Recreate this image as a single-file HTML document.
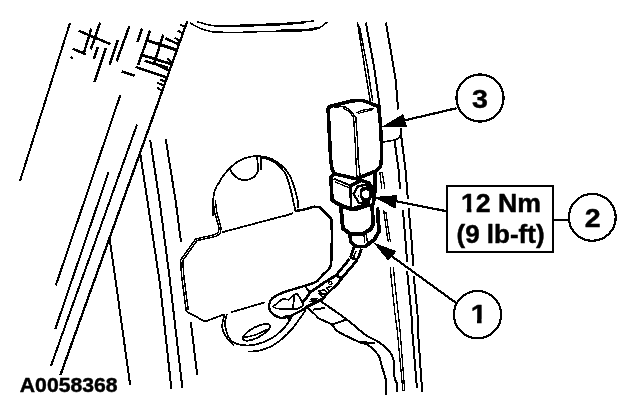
<!DOCTYPE html>
<html>
<head>
<meta charset="utf-8">
<title>A0058368</title>
<style>
html,body{margin:0;padding:0;background:#fff;}
body{width:640px;height:406px;overflow:hidden;position:relative;}
svg{position:absolute;left:0;top:0;display:block;will-change:transform;}
.t{fill:none;stroke:#000;stroke-width:2;stroke-linecap:butt;stroke-linejoin:round;}
.m{fill:none;stroke:#000;stroke-width:2.2;stroke-linecap:butt;stroke-linejoin:round;}
.k{fill:none;stroke:#000;stroke-width:3.6;stroke-linecap:butt;stroke-linejoin:round;}
text{font-family:"Liberation Sans",Arial,Helvetica,sans-serif;font-weight:bold;fill:#000;stroke:#000;stroke-width:0.45;stroke-linejoin:round;}
</style>
</head>
<body>
<svg width="640" height="406" viewBox="0 0 640 406" shape-rendering="crispEdges">
<rect x="0" y="0" width="640" height="406" fill="#fff"/>

<!-- left hatch area -->
<g class="t" id="hatch">
<path d="M70,23 L20,181"/>
<g style="stroke-width:2.5">
<path d="M78.6,30.7 L110.3,44.1"/>
<path d="M91.4,28.6 L83.9,52.7"/>
<path d="M100.2,22.5 L90.8,49.5"/>
<path d="M72.6,48.7 L85.8,54.2"/>
<path d="M70.4,57 L73.2,58.2"/>
<path d="M97.7,47 L93.9,59"/>
<path d="M105.9,47.7 L94.5,82"/>
<path d="M117.8,40.1 L109.6,64.6"/>
<path d="M129.3,26.3 L116.5,61.5"/>
<path d="M121.6,71.3 L134.7,75.7"/>
<path d="M142,28.6 L137.6,42"/>
<path d="M150.1,30.7 L138.2,64.8"/>
<path d="M163.3,34.5 L153.6,65"/>
<path style="stroke-width:3" d="M146.4,40.1 L177.1,50.2"/>
<path d="M165.2,38.2 L179,44.5"/>
<path style="stroke-width:2.8" d="M140.7,54.6 L172.7,64.6"/>
<path d="M144.5,60.9 L167.7,67.5"/>
<path d="M155,63.8 L168.3,70"/>
<path d="M135.7,66.9 L167.1,77.6"/>
</g>
<path d="M120.3,95.2 L55.8,285.4"/>
<path style="stroke-width:2.3" d="M187.2,21.3 L60.3,375.4"/>
<path d="M179.6,24.4 L185.3,26.9 M177.8,30.7 L183.4,33.8 M174.6,37.6 L180.9,42 M167.1,58.3 L172.1,62.7 M160.2,79.5 L165.8,82 M157,82.6 L162.7,85.1 M157,87.6 L162,90.8"/>
<path d="M108.5,172.4 L55.3,329"/>
<path d="M137,124.6 L51,365.8"/>
<path d="M109.5,237.7 L118.6,302 L130.2,385.4"/>
<path d="M140.1,152.8 L147.6,202 L160,284 L171.4,388.9"/>
<path d="M150.2,139.7 L159.7,202 L169.4,276 L182.4,388.2"/>
<path d="M165.7,139 L175.8,202 L181,242.2"/>
<path d="M190.8,322.1 L197.2,374.7"/>
</g>

<!-- top curves -->
<g class="t" id="topcurves" style="stroke-width:1.5">
<path d="M196.7,21.5 C203,23.5 208,25.2 214,25.7 C225,26.2 235,25.5 245,25 C258,24.5 268,24.2 279,23.8 C292,23 303,22.2 314,21"/>
<path d="M214,26.2 C225,26.8 235,26.4 245,26 C258,25.7 268,25.3 279,24.8 C290,24.2 298,23.4 306,22.6"/>
<path d="M190.2,22.9 C194,25.5 197,27.2 201.4,28.8 C207,31 212,32.2 217.8,32.7 C230,33 243,32.2 255.3,31.8 C265,31.5 274,31.3 283.4,31.1 C292,31 301,31 309.2,30.4 C313,29.8 316,29.2 318.6,28.2 C322.5,26.5 325,24.5 327.5,21.7"/>
<path d="M209,31.2 C214,31.8 218,31.9 223,31.8 M281,30.2 C291,29.9 300,29.8 309,29.3 C312,28.9 315,28.3 318,27.3"/>
</g>

<!-- pillar lines -->
<g class="t" id="pillar">
<path style="stroke-width:1.5" d="M357.5,22.5 L364.5,66 L370.4,102"/>
<path style="stroke-width:1.5" d="M359.3,26 L367.2,66 L372.7,101"/>
<path d="M365.8,22.5 L373.9,66 L379.1,102 L380,108"/>
<path d="M385.9,22.5 L393.4,66 L395.7,80 L398.1,109.5"/>
<path d="M401,128 L401,134.4 L405.5,170 L407.9,199.4 M408.6,208.4 L411.4,238 L413.3,266.1 M413.7,276 L417.5,314 L417.9,330 L422.2,391.9"/>
<path d="M394.6,140.8 L398.6,170 L400,188.6 M403,210.3 L405.3,238 L407.2,262.4 M407.2,271.3 L407.6,276 L411.4,314 L412.2,330 L416.9,388.2"/>
<path style="stroke-width:1.3" d="M382.3,172.4 L379.9,172.4 L381.8,188.6 M383.7,210.3 L387.5,238 L388.4,241.7 M390.5,267.5 L391,276 L395,314 L397.2,330 L402.9,391"/>
<path style="stroke-width:1.3" d="M382.3,172.4 L384.8,188.6 M385.9,212.2 L389.7,238 L390.6,241.7 M393.6,267.5 L394.1,276 L398.3,314 L400,330 L404.7,391"/>
<path style="stroke-width:1.6" d="M382.6,142.1 L395.6,139.8 Q399.6,138.4 401,134.4"/>
</g>

<!-- latch / striker plate -->
<g class="t" id="latch" style="stroke-width:1.75">
<path d="M213.1,216 L213.1,200 C214,190 216,186 218.8,183.2 C222,176 226,172 230,168.1 C234,164 238,161 243.2,158.8 C248,157 252,156 256.3,156 C262,156 267,157 271.3,158.8 C276,161 280,164 284.4,168.1 C288,172 291,177 292.9,183.2 C295,189 296.5,194 297.6,200 L298.5,208.5"/>
<path d="M260,157 C266,158 271,160 275,162.5 C279,165.5 282,168.5 284.4,172 C287,176.5 288.5,181 290,187 C292,194 293,199 293.8,204 L295.7,211"/>
<path style="stroke-width:2.4" d="M294.8,209.6 L295.7,211 L305,209.4 L314.4,206.6 L320,207.5 L331.3,218.8 L331.9,235 L331.3,262 Q331.3,266.5 328.4,270 L322.5,274.9 Q319.5,279 317.6,280.8 Q315.5,282.5 312.7,283.3 L304.8,285.8 L297.4,288 L284.6,291.9 Q277,294.8 272.8,297.8 Q270,300.5 269.4,303.7 Q268.8,307.5 269.9,310.6 Q271.5,313.5 274.8,315.5 L280.7,318 Q285,317.8 289.6,316.5 L299.4,311.6 L306.3,307.7"/>
<path d="M230,169 C231,172 233,175 235.6,176.6 C238,179 241,180 245,180 C249,180 252,178.5 254.4,176.6 C256.5,174.5 257.8,172.5 258.2,170 L257.2,157"/>
<path d="M261,157 L261,170"/>
<path d="M284.4,216 L292.9,213.2"/>
<!-- left of arch: double line -->
<path style="stroke-width:1.5" d="M213.1,200 L214.4,211.3 L219.1,228.1 L218.2,232.8 L214.4,234.7 L195.6,239 L180.6,260 L181.6,276 L186.3,311.3"/>
<path d="M186.3,311.3 L205,321.6 L224.7,314.1"/>
<path style="stroke-width:1.5" d="M215.3,200 L216.6,211.3 L221.1,228.1 L220.2,233.8 L215.4,236.5 L197,240.6 L182.8,260.6 L183.8,276 L188.3,310.3"/>
<path d="M221.9,232.3 L292.8,213.5"/>
<path d="M231.3,312.2 L265.4,302.2"/>
<!-- tab -->
<path d="M224.7,314.1 C224.3,316.2 221.8,322.9 222.2,326.9 C222.6,330.9 224.9,335.0 226.9,338.1 C228.9,341.2 233.2,344.4 234.4,345.6"/>
<path d="M226.9,313.8 C226.6,315.7 224.4,320.6 225.0,325.0 C225.6,329.4 228.1,336.7 230.6,340.0 C233.1,343.3 235.9,343.9 240.0,344.7 C244.1,345.5 249.7,345.8 255.0,344.7 C260.3,343.6 266.9,341.1 271.9,338.1 C276.9,335.1 281.6,330.6 285.0,326.9 C288.4,323.1 291.2,317.5 292.5,315.6"/>
<path d="M248.4,351.6 C250.4,351.4 256.1,351.6 260.6,350.3 C265.1,349.0 270.6,347.1 275.6,343.8 C280.6,340.5 286.2,335.3 290.6,330.6 C295.0,325.9 299.4,319.0 301.9,315.6 C304.4,312.2 305.0,310.9 305.6,310.0"/>
<ellipse cx="256.5" cy="332.3" rx="15.2" ry="5.2" transform="rotate(-27.5 256.5 332.3)"/>
<path style="stroke-width:1.5" d="M244,337.3 Q256,336.3 267,329.3"/>
<!-- ring -->
<path style="stroke-width:1.7" d="M272.8,306.7 L276.7,303.7 L282.7,298.8 L288.6,299.8 L294.5,294.4 L297.4,293.9 L303.3,303.7 L302.4,306.2 L297.4,309.1 L276.7,308.6 Z"/>
<path style="stroke-width:1.7" d="M294.5,294.4 L293,307.7"/>
<polygon points="284,314.5 294,314.5 288,320" fill="#000" stroke="none"/>
</g>

<!-- wire and cable -->
<g class="t" id="wire">
<g style="stroke-width:2.8">
<path d="M353.9,247 L350.6,257.4 M361.5,248.8 L357.7,259.2"/>
<path d="M350.2,257.6 L357.7,259.6"/>
<path d="M349.5,258.9 L336.3,275.2 L333.3,277 L325.5,281.8 L319.6,285.8 L309.7,292.7 L306.7,297.6 L301.8,303.5"/>
<path d="M357.1,260.1 L342,278 L337.5,284 L333.3,287.7 L327.4,293.6 L321.5,299.6 L313.6,303.5 L305.8,307.4"/>
<path d="M335.7,275 L342,278.8"/>
</g>
<circle cx="330.4" cy="283.3" r="1.6" style="stroke-width:1.2"/>
<path style="stroke-width:1.5" d="M332.4,286.2 L326.5,287.7 L329.4,291.4 L325,294.4 L319.1,293.6 L323.5,298.1 L316.1,301 L308.7,301.8"/>
<path style="stroke-width:1.5" d="M318.5,291.2 L324.5,289.7 L327.4,292.6 L323.5,294.1 Z"/>
<path style="stroke-width:1.5" d="M309.7,299.6 L317.6,298.1 M310.7,301 L316.6,299.6"/>
<path style="stroke-width:1.5" d="M356,251 L353.2,258.5"/>
<path d="M304.8,285.8 L309.7,292.2"/>
<path d="M320.6,301.3 C324.7,304.1 337.5,312.5 345.0,318.1 C352.5,323.7 360.3,331.1 365.7,335.0 C371.1,338.9 373.6,338.7 377.5,341.3 C381.4,343.9 386.1,347.5 388.8,350.6 C391.5,353.7 392.6,355.6 393.5,360.0 C394.4,364.4 393.8,372.8 394.4,376.9 C395.0,381.0 396.7,381.9 397.2,384.4 C397.7,386.9 397.2,390.6 397.2,391.9"/>
<path d="M307.3,307.7 C308.6,308.9 313.2,312.8 315.2,314.6 C317.1,316.4 316.2,316.7 319.0,318.4 C321.8,320.1 328.8,322.5 331.9,324.7 C335.0,326.9 333.1,328.5 337.5,331.3 C341.9,334.1 353.1,339.3 358.2,341.6 C363.3,343.9 364.7,342.7 368.1,345.0 C371.5,347.3 376.1,351.6 378.5,355.3 C380.9,359.1 380.9,363.3 382.2,367.5 C383.4,371.7 385.3,376.1 386.0,380.6 C386.7,385.1 386.4,392.4 386.5,394.7"/>
<path d="M331.9,324.7 L346,319.6 M313,309.7 L325.3,307.8 M358.2,341.6 L375,343.4"/>
</g>

<!-- sensor -->
<g id="sensor">
<path class="k" d="M334.5,173.8 L332,168.8 L330.7,160 L329.8,142.3 L328.2,110.8 Q327.6,107.4 331,106.2 L340.1,103.9 L351.4,101.1 Q357,100.2 362.7,100.7 Q367,101.6 370.3,103.3 L378.6,106.6 L380.4,123.4 L381.3,141 L381.3,160 Q381.2,165.5 379.8,167.5 L375.3,171.3 L356.4,178.8 Z" fill="#fff" stroke="#000"/>
<path class="t" style="stroke-width:1.4" d="M334,107.2 L343.9,106.4 Q347.5,108 350.2,110.8 L355.8,117.1 L357.7,143 L358.2,160 L360.2,176.3"/>
<path class="t" style="stroke-width:1.4" d="M342.6,107.7 L348.9,111.5 L353.3,116.5 L353.9,122.2 L355.2,143 L355.3,150 L357,177.6"/>
<path class="t" style="stroke-width:1.4" d="M356.4,112.7 L362.7,110.2 L374,108.3"/>
<path class="t" style="stroke-width:1.2" d="M358,113.6 L364,111.8 L373,109.6"/>
</g>

<!-- bracket + bolt -->
<g id="bracket">
<path class="k" d="M334.5,174 L330.9,177 L332,200.2 L345.9,207.6 L350.8,209.2 L370.3,203.6"/>
<path class="t" d="M333.5,178.6 L351.4,185.8"/>
<path class="t" style="stroke-width:1.2" d="M334.5,181.6 L350,188.2"/>
<path class="m" style="stroke-width:2.6" d="M350.4,185.8 L351.2,209"/>
<path class="k" d="M351.4,185.3 L361.5,180.3 L369,183.2 L373.6,190"/>
<path class="k" style="stroke-width:3.8" d="M375.5,172 L374.9,190 L374.2,197 L373.2,204.5"/>
<polygon points="353.6,193.8 357.5,186.6 366,184.6 372,192 369,201.4 359,203.2" fill="#fff" stroke="#000" stroke-width="2.3"/>
<circle cx="365.4" cy="194" r="7.5" fill="#000"/>
<path d="M360.2,188.2 Q357.4,193.5 360.8,200.2" fill="none" stroke="#fff" stroke-width="1.3"/>
<circle cx="365.8" cy="194.1" r="3.7" fill="#fff"/>
</g>

<!-- connector -->
<g id="connector" style="stroke-width:3.9">
<path class="k" style="stroke-width:3.9" d="M332,200.2 L341.5,206 L355,209.5 L370.3,204.4"/>
<path class="k" style="stroke-width:3.9" d="M340.9,206.3 L342.8,228.3 L350.2,233.9 L362.7,233.9 L370.3,229.5 L372.8,225.1 L372.3,203.8"/>
<path class="k" style="stroke-width:3.9" d="M377.4,207.5 L379,231.4 L374,240.2 L367.7,244"/>
<path class="k" style="stroke-width:3.6" d="M349.7,234.5 L351,242.5 L356.4,246.5 L365.2,246.5 L374,240"/>
<path class="t" style="stroke-width:1.3" d="M364,234.5 L364.6,242.7 M366.6,234.5 L367.2,241.7"/>
</g>

<!-- callout leader lines + arrows -->
<g id="callouts">
<path class="m" d="M405,120.3 L456.6,108.2"/>
<polygon points="381.4,127 403.3,114 407,127" fill="#000"/>

<path class="m" d="M396,201.2 L447,211.3"/>
<polygon points="373.4,197.1 397.5,195 395.4,208.6" fill="#000"/>

<path class="m" d="M391.8,256.2 L457,303.6"/>
<polygon points="373.4,242.6 396.8,251.2 387.8,260.3" fill="#000"/>

<circle class="m" cx="480" cy="98" r="23.6" fill="#fff"/>
<circle class="m" cx="592.3" cy="217.4" r="23.4" fill="#fff"/>
<circle class="m" cx="477.5" cy="314.6" r="23.6" fill="#fff"/>
<path class="m" d="M553.1,219.7 L568.8,219.7"/>
<rect x="447.3" y="186.1" width="105.8" height="65.7" fill="#fff" stroke="#000" stroke-width="2"/>
</g>

<g id="labels" shape-rendering="auto">
<text transform="translate(480,108.3) scale(1.1,1)" font-size="26" text-anchor="middle">3</text>
<text transform="translate(592.7,226.8) scale(1.1,1)" font-size="26" text-anchor="middle">2</text>
<text transform="translate(478.6,323.1) scale(1.1,1)" font-size="26" text-anchor="middle">1</text>
<rect x="469" y="319.4" width="8" height="5.2" fill="#fff"/><rect x="481.6" y="319.4" width="7" height="5.2" fill="#fff"/>
<text transform="translate(501,212.3) scale(1.07,1)" font-size="25" text-anchor="middle">12 Nm</text>
<rect x="460" y="208.4" width="6.7" height="5" fill="#fff"/><rect x="471.4" y="208.4" width="4.9" height="5" fill="#fff"/>
<text transform="translate(500.5,242.8) scale(1.04,1)" font-size="25" text-anchor="middle">(9 lb-ft)</text>
<text transform="translate(19.8,392.4) scale(1.06,1)" font-size="20">A0058368</text>
</g>
</svg>
</body>
</html>
